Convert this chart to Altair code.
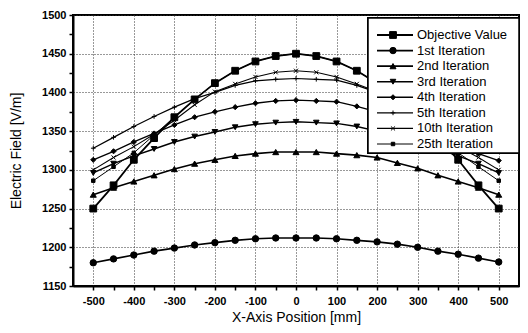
import altair as alt
import pandas as pd

x_pos = [-500, -450, -400, -350, -300, -250, -200, -150, -100, -50, 0,
         50, 100, 150, 200, 250, 300, 350, 400, 450, 500]

series_names = ["Objective Value", "1st Iteration", "2nd Iteration", "3rd Iteration",
                "4th Iteration", "5th Iteration", "10th Iteration", "25th Iteration"]

objective = [1250, 1280, 1313, 1341, 1368, 1391, 1412, 1428, 1440, 1447, 1450,
             1447, 1440, 1428, 1412, 1391, 1368, 1341, 1313, 1280, 1250]
iter1 = [1180, 1185, 1190, 1195, 1199, 1203, 1206, 1209, 1211, 1212, 1212,
         1212, 1211, 1209, 1207, 1204, 1200, 1195, 1191, 1186, 1181]
iter2 = [1268, 1277, 1285, 1293, 1301, 1308, 1313, 1318, 1321, 1323, 1323,
         1323, 1321, 1319, 1316, 1309, 1302, 1293, 1285, 1277, 1268]
iter3 = [1296, 1308, 1318, 1327, 1336, 1343, 1349, 1355, 1359, 1361, 1362,
         1361, 1360, 1356, 1350, 1343, 1336, 1327, 1318, 1308, 1296]
iter4 = [1313, 1324, 1336, 1347, 1358, 1368, 1375, 1381, 1386, 1389, 1390,
         1389, 1388, 1382, 1375, 1368, 1358, 1347, 1336, 1321, 1312]
iter5 = [1328, 1342, 1356, 1369, 1381, 1392, 1400, 1409, 1415, 1417, 1418,
         1417, 1416, 1409, 1400, 1392, 1381, 1369, 1356, 1342, 1328]
iter10 = [1300, 1316, 1330, 1346, 1364, 1384, 1401, 1411, 1420, 1426, 1428,
          1426, 1420, 1411, 1401, 1384, 1364, 1346, 1330, 1316, 1300]
iter25 = [1286, 1304, 1322, 1345, 1368, 1391, 1412, 1428, 1440, 1447, 1450,
          1447, 1440, 1428, 1412, 1391, 1368, 1345, 1322, 1304, 1286]

all_values = [objective, iter1, iter2, iter3, iter4, iter5, iter10, iter25]

shapes = ["square", "circle", "triangle-up", "triangle-down", "diamond",
          "M-1,0H1M0,-1V1", "M-1,-1L1,1M-1,1L1,-1", "square"]
sizes = [46, 12, 16, 16, 18, 26, 18, 12]
widths = [1.8, 1, 1, 1, 1, 1, 1, 1]

rows = []
for name, vals in zip(series_names, all_values):
    for xv, yv in zip(x_pos, vals):
        rows.append({"x": xv, "y": yv, "series": name})
df = pd.DataFrame(rows)
legend_df = pd.DataFrame({"series": series_names})

shape_scale = alt.Scale(domain=series_names, range=shapes)
size_scale = alt.Scale(domain=series_names, range=sizes)
sw_scale = alt.Scale(domain=series_names, range=widths)

FONT = "Liberation Sans"

x_enc = alt.X(
    "x:Q",
    scale=alt.Scale(domain=[-550, 550], nice=False, zero=False),
    axis=alt.Axis(
        values=list(range(-500, 501, 50)),
        labelExpr="datum.value % 100 === 0 ? '' + datum.value : ''",
        gridOpacity={"condition": {"test": "datum.value % 100 === 0", "value": 1}, "value": 0},
        title="X-Axis Position [mm]",
        labelPadding=5,
        titlePadding=4,
    ),
)
y_enc = alt.Y(
    "y:Q",
    scale=alt.Scale(domain=[1150, 1500], nice=False, zero=False),
    axis=alt.Axis(
        values=list(range(1150, 1501, 25)),
        labelExpr="datum.value % 50 === 0 ? '' + datum.value : ''",
        gridOpacity={"condition": {"test": "datum.value % 50 === 0", "value": 1}, "value": 0},
        title="Electric Field [V/m]",
        labelPadding=3,
        titlePadding=18,
    ),
)

lines = alt.Chart(df).mark_line(color="black").encode(
    x=x_enc, y=y_enc, detail="series:N",
    strokeWidth=alt.StrokeWidth("series:N", scale=sw_scale, legend=None),
)
points = alt.Chart(df).mark_point(filled=True, fill="black", stroke="black",
                                  strokeWidth=1, opacity=1).encode(
    x=x_enc, y=y_enc,
    shape=alt.Shape("series:N", scale=shape_scale, legend=None),
    size=alt.Size("series:N", scale=size_scale, legend=None),
)
data_layer = alt.layer(lines, points)

leg_y = alt.Y("series:N", sort=series_names,
              scale=alt.Scale(type="point", domain=series_names, range=[20, 129], padding=0),
              axis=None)

leg_box = alt.Chart(legend_df).mark_rect(fill="white", stroke="black", strokeWidth=1.5).encode(
    x=alt.value(295), x2=alt.value(446), y=alt.value(3), y2=alt.value(138)
)
leg_line = alt.Chart(legend_df).mark_rule(color="black").encode(
    y=leg_y, x=alt.value(304), x2=alt.value(340),
    strokeWidth=alt.StrokeWidth("series:N", scale=sw_scale, legend=None),
)
leg_pt = alt.Chart(legend_df).mark_point(filled=True, fill="black", stroke="black",
                                         strokeWidth=1, opacity=1).encode(
    y=leg_y, x=alt.value(320),
    shape=alt.Shape("series:N", scale=shape_scale, legend=None),
    size=alt.Size("series:N", scale=size_scale, legend=None),
)
leg_text = alt.Chart(legend_df).mark_text(align="left", baseline="middle", font=FONT,
                                          fontSize=13, color="black").encode(
    y=leg_y, x=alt.value(344), text="series:N"
)
legend_layer = alt.layer(leg_box, leg_line, leg_pt, leg_text)

chart = alt.layer(data_layer, legend_layer).resolve_scale(
    y="independent"
).properties(
    width=446, height=271,
    autosize=alt.AutoSizeParams(type="none"),
    padding={"left": 73, "top": 15, "right": 9, "bottom": 47},
    background="white",
).configure_view(
    stroke="black", strokeWidth=2
).configure_axis(
    domainColor="black", domainWidth=2,
    tickColor="black", tickSize=4, tickWidth=1.5,
    labelColor="black", labelFont=FONT, labelFontSize=11, labelFontWeight="bold",
    titleColor="black", titleFont=FONT, titleFontSize=14, titleFontWeight="normal",
    gridColor="#333333", gridDash=[1, 2], gridWidth=1,
)

chart.save("out.html", embed_options={"renderer": "svg", "actions": False})
